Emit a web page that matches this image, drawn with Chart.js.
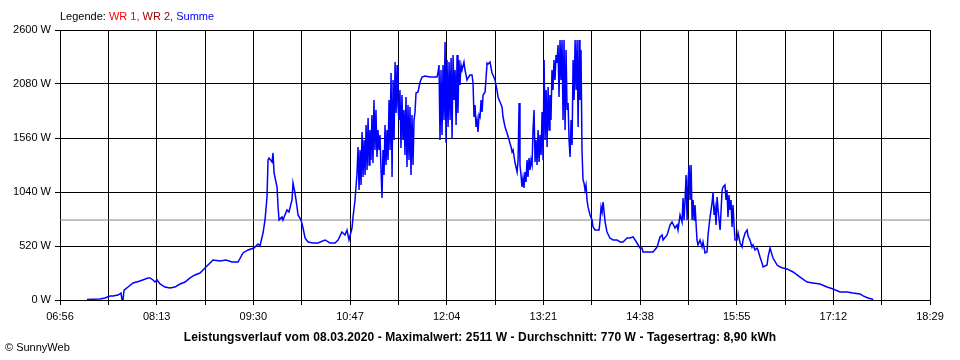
<!DOCTYPE html>
<html lang="de">
<head>
<meta charset="UTF-8">
<title>SunnyWeb - Leistungsverlauf</title>
<script src="https://cdn.jsdelivr.net/npm/chart.js@4"></script>
<style>
  body { margin: 0; background: #fff; }
  #wrap { position: relative; width: 960px; height: 360px; font-family: "Liberation Sans", Arial, sans-serif; font-size: 11px; color: #000; }
  #chart { position: absolute; left: 0; top: 0; }
  .legende { position: absolute; left: 60px; top: 10px; }
  .titel { position: absolute; left: 0; top: 330px; width: 960px; text-align: center; font-weight: bold; font-size: 12px; letter-spacing: 0.1px; }
  .copy { position: absolute; left: 5px; top: 341px; }
</style>
</head>
<body>
<div id="wrap">
  <canvas id="chart" width="960" height="360"></canvas>
  <div class="legende">Legende: <span style="color:#ff0000">WR 1,</span> <span style="color:#a50000">WR 2,</span> <span style="color:#0000ff">Summe</span></div>
  <div class="titel">Leistungsverlauf vom 08.03.2020 - Maximalwert: 2511 W - Durchschnitt: 770 W - Tagesertrag: 8,90 kWh</div>
  <div class="copy">© SunnyWeb</div>
</div>

<script>
  // Achse: Minuten seit Mitternacht (06:56 = 416, 18:29 = 1109)
  const dayStart = 416;
  const dayEnd = 1109;
  const tickMinutes = [416, 454.5, 493, 531.5, 570, 608.5, 647, 685.5, 724, 762.5,
                       801, 839.5, 878, 916.5, 955, 993.5, 1032, 1070.5, 1109];
  const xLabels = ['06:56', '08:13', '09:30', '10:47', '12:04', '13:21', '14:38', '15:55', '17:12', '18:29'];
  const yTicks = [0, 520, 1040, 1560, 2080, 2600];
  const avgWatt = 770;

  // Summe der Wechselrichter: Zeitpunkt (min) und Leistung (W)
  const sampleMinutes = [
    437.5, 447.9, 451.8, 455.8, 458.2, 462.2, 464.6, 465.4, 466.2, 467.0,
    470.2, 474.2, 479.7, 486.1, 487.7, 490.1, 491.7, 493.3, 495.7, 499.6,
    503.6, 507.6, 511.6, 515.6, 519.6, 523.5, 527.5, 531.5, 535.5, 537.9,
    543.5, 548.2, 553.0, 557.8, 561.8, 565.8, 570.5, 573.7, 575.3, 577.7,
    579.3, 580.9, 581.7, 582.5, 584.9, 585.7, 586.5, 588.9, 589.7, 590.5,
    592.8, 593.6, 596.8, 598.4, 600.8, 601.6, 603.2, 604.8, 605.6, 608.0,
    609.6, 611.2, 613.6, 617.5, 621.5, 627.1, 631.1, 635.1, 637.5, 640.6,
    643.0, 644.6, 646.2, 648.6, 649.4, 651.0, 652.6,
    653.4, 654.2, 655.0, 655.8, 656.6, 657.4, 658.2, 659.0, 659.8, 660.6,
    661.4, 662.2, 662.9, 663.7, 664.5, 665.3, 666.1, 666.9, 667.7, 668.5,
    669.3, 670.1, 670.9, 671.7, 672.5, 673.3, 674.1, 674.9, 675.7, 676.5,
    677.3, 678.1, 678.9, 679.7, 680.5, 681.3, 682.1, 682.9, 683.7, 684.5,
    685.2, 686.0, 686.8, 687.6, 688.4, 689.2, 690.0, 690.8, 691.6, 692.4,
    693.2, 694.0, 694.8, 695.6, 696.4, 697.2, 698.0, 698.8, 699.6, 701.2,
    702.8, 704.4, 706.8, 710.7, 716.3, 717.1, 717.9,
    718.7, 719.5, 720.3, 721.1, 721.9, 722.7, 723.5, 724.3, 725.1, 725.9,
    726.7, 727.5, 728.3, 729.1, 729.9, 730.7, 731.5, 732.3, 733.0, 733.8,
    734.6, 735.4, 736.2, 737.8, 738.6, 740.2, 741.0, 742.6, 744.2, 745.0,
    745.8, 746.6, 747.4, 748.2, 749.0, 749.8, 750.6, 751.4, 752.2, 753.0,
    754.6, 756.2, 757.0, 758.5, 760.1, 760.9, 762.5, 764.1, 764.9, 766.5,
    768.1, 768.9, 770.5, 772.1, 773.7, 775.3, 776.1, 776.9, 778.5, 780.1,
    780.9, 781.7, 782.4, 783.2, 784.0, 784.8, 785.6, 786.4, 787.2, 788.0,
    788.8, 789.6, 790.4, 791.2, 792.0, 792.8, 793.6, 794.4, 795.2, 796.0,
    796.8, 797.6, 798.4, 799.2, 800.0, 800.8, 801.6, 802.4, 803.2, 804.0,
    804.8, 805.6, 806.3, 807.1, 807.9, 808.7, 809.5, 810.3, 811.1, 811.9,
    812.7, 813.5, 814.3, 815.1, 815.9, 816.7, 817.5, 818.3, 819.1, 819.9,
    820.7, 821.5, 822.3, 823.1, 823.9, 824.7, 825.5, 826.3, 827.1, 827.9,
    828.7, 829.5, 830.2, 831.0, 831.8, 832.6, 833.4, 834.2, 835.0, 835.8,
    836.6, 838.2, 839.8, 840.6, 842.2, 845.4, 846.2, 847.0, 847.8, 848.6,
    849.4, 850.2, 851.7, 854.1, 856.5, 859.7, 862.1, 864.5, 867.7, 870.1,
    872.5, 875.6, 878.0, 879.6, 880.4, 888.4, 891.6, 894.0, 895.6, 896.4,
    899.6, 901.9, 903.5, 905.9, 907.5, 908.3, 909.9, 911.5, 912.3, 913.1,
    913.9, 914.7, 915.5, 916.3, 917.1, 917.9, 918.7, 919.5, 920.3, 921.1,
    921.8, 923.4, 924.2, 925.8, 927.4, 928.2, 929.8, 931.4, 932.2, 933.8,
    935.4, 936.2, 937.0, 937.8, 938.6, 939.4, 940.2, 941.8, 943.4, 944.2,
    945.7, 946.5, 947.3, 948.1, 948.9, 949.7, 950.5, 951.3, 952.1, 952.9,
    953.7, 955.3, 956.1, 957.7, 959.3, 960.1, 961.7, 963.3, 964.1, 965.6,
    967.2, 968.0, 969.6, 971.2, 972.0, 973.6, 975.2, 976.0, 979.2, 980.0,
    981.6, 983.2, 984.0, 987.2, 989.6, 991.9, 995.1, 999.9, 1005.5, 1011.1,
    1015.8, 1021.4, 1027.0, 1031.8, 1037.3, 1042.9, 1047.7, 1053.3, 1055.7, 1059.6,
    1062.8, 1063.6
  ];
  const sumWatts = [
    5, 10, 19, 39, 39, 48, 67, 0, 0, 96,
    125, 164, 183, 212, 212, 193, 173, 193, 154, 125,
    116, 125, 154, 173, 212, 241, 260, 308, 356, 385,
    376, 385, 366, 366, 453, 482, 501, 539, 520, 645,
    770, 992, 1348, 1367, 1329, 1416, 1223, 1088, 896, 770,
    799, 770, 867, 847, 963, 1127, 1030, 896, 819, 770,
    693, 597, 559, 549, 549, 578, 549, 549, 578, 655,
    626, 674, 578, 693, 799, 963, 1223,
    1473, 1059, 1445, 1107, 1618, 1184, 1541, 1204, 1685, 1252,
    1753, 1300, 1637, 1348, 1782, 1319, 1926, 1445, 1830, 1377,
    1637, 1445, 1589, 1252, 982, 1445, 1204, 1685, 1300, 1637,
    1348, 1926, 1445, 2186, 1184, 2119, 1541, 2292, 1801, 2263,
    1878, 1733, 2022, 1464, 1974, 1541, 1830, 1396, 1955, 1281,
    1878, 1348, 1859, 1204, 1782, 1300, 1733, 1810, 1993, 2003,
    2099, 2147, 2157, 2147, 2147, 2186, 2263,
    1541, 2215, 1589, 2263, 1733, 2485, 1512, 2311, 1666, 2292,
    1733, 2330, 1560, 2359, 1926, 2215, 1685, 2359, 1801, 2311,
    2070, 2263, 2215, 2292, 2215, 2119, 2138, 2167, 2167, 2090,
    1762, 1878, 1666, 1733, 1618, 1782, 1762, 1926, 1810, 1974,
    2003, 2282, 2273, 2292, 2186, 2167, 2119, 2022, 1955, 1907,
    1859, 1762, 1666, 1608, 1541, 1473, 1425, 1445, 1319, 1233,
    1348, 1897, 1300, 1204, 1088, 1175, 1079, 1233, 1136, 1348,
    1184, 1367, 1252, 1348, 1300, 1637, 1830, 1329, 1541, 1300,
    1637, 1329, 1589, 1396, 1810, 1348, 2311, 1541, 2022, 1473,
    2051, 1637, 1974, 1733, 2215, 2022, 2311, 2119, 2359, 2282,
    2456, 1955, 2504, 2119, 2504, 1733, 2504, 1637, 2408, 1830,
    1897, 1541, 1377, 1733, 1493, 2311, 1926, 2504, 2022, 2504,
    1666, 2504, 1926, 2408, 1445, 1156, 1127, 1059, 1107, 963,
    896, 819, 770, 703, 674, 674, 770, 896, 847, 944,
    847, 751, 655, 597, 578, 578, 559, 559, 597, 597,
    607, 549, 501, 501, 462, 462, 510, 607, 626, 578,
    626, 722, 751, 693, 722, 674, 819, 751, 982, 770,
    963, 1204, 770, 1156, 1300, 963, 1300, 770, 963, 770,
    915, 578, 530, 578, 510, 559, 453, 462, 626, 799,
    934, 1040, 819, 886, 722, 992, 867, 674, 1059, 1088,
    1107, 963, 1059, 799, 1011, 867, 963, 703, 915, 722,
    578, 578, 645, 549, 510, 578, 645, 674, 616, 578,
    510, 530, 482, 501, 482, 414, 356, 318, 337, 414,
    501, 433, 404, 337, 318, 308, 299, 270, 221, 173,
    164, 154, 125, 106, 77, 77, 67, 58, 39, 19,
    10, 0
  ];

  const summe = sampleMinutes.map((m, i) => ({ x: m, y: sumWatts[i] }));
  const schnitt = [{ x: dayStart, y: avgWatt }, { x: dayEnd, y: avgWatt }];

  const tickFont = { family: '"Liberation Sans", Arial, sans-serif', size: 11 };

  new Chart(document.getElementById('chart').getContext('2d'), {
    type: 'line',
    data: {
      datasets: [
        {
          label: 'Summe',
          data: summe,
          borderColor: '#0000ff',
          borderWidth: 1.5,
          pointRadius: 0,
          tension: 0
        },
        {
          label: 'Durchschnitt',
          data: schnitt,
          borderColor: '#808080',
          borderWidth: 1,
          pointRadius: 0
        }
      ]
    },
    options: {
      responsive: false,
      animation: false,
      layout: { padding: { left: 0, top: 30, right: 30, bottom: 0 } },
      plugins: {
        legend: { display: false },
        tooltip: { enabled: false }
      },
      scales: {
        x: {
          type: 'linear',
          min: dayStart,
          max: dayEnd,
          afterBuildTicks: (s) => { s.ticks = tickMinutes.map(v => ({ value: v })); },
          afterFit: (s) => { s.height = 60; },
          ticks: {
            autoSkip: false,
            maxRotation: 0,
            color: '#000',
            font: tickFont,
            padding: 5,
            callback: (v, i) => (i % 2 ? '' : xLabels[i / 2])
          },
          grid: { color: '#000', lineWidth: 1, tickLength: 5 },
          border: { color: '#000' }
        },
        y: {
          min: 0,
          max: 2600,
          afterBuildTicks: (s) => { s.ticks = yTicks.map(v => ({ value: v })); },
          afterFit: (s) => { s.width = 60; },
          ticks: {
            color: '#000',
            font: tickFont,
            padding: 4,
            callback: (v) => v + ' W'
          },
          grid: { color: '#000', lineWidth: 1, tickLength: 5 },
          border: { color: '#000' }
        }
      }
    }
  });
</script>
</body>
</html>
